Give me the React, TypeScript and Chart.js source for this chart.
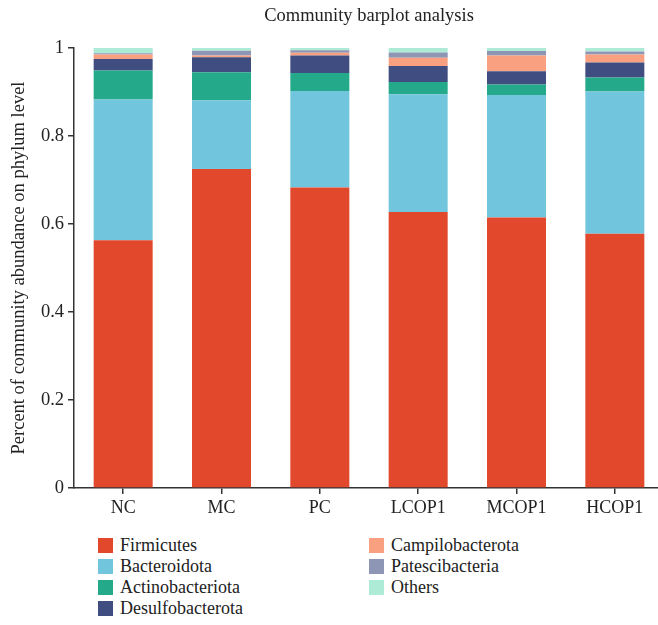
import React, { useEffect, useRef } from "react";
import { Chart, registerables } from "chart.js";

Chart.register(...registerables);

const categories = ["NC", "MC", "PC", "LCOP1", "MCOP1", "HCOP1"];
const seriesNames = [
  "Firmicutes",
  "Bacteroidota",
  "Actinobacteriota",
  "Desulfobacterota",
  "Campilobacterota",
  "Patescibacteria",
  "Others",
];
const firmicutes = [0.563, 0.725, 0.683, 0.627, 0.615, 0.578];
const bacteroidota = [0.32, 0.156, 0.219, 0.268, 0.278, 0.323];
const actinobacteriota = [0.066, 0.064, 0.041, 0.028, 0.024, 0.032];
const desulfobacterota = [0.026, 0.034, 0.04, 0.036, 0.03, 0.034];
const campilobacterota = [0.01, 0.004, 0.006, 0.019, 0.036, 0.018];
const patescibacteria = [0.003, 0.011, 0.006, 0.012, 0.01, 0.007];
const others = [0.012, 0.006, 0.005, 0.01, 0.007, 0.008];
const colors = ["#E2492C", "#71C6DD", "#24A98A", "#3F4D80", "#F9A080", "#8E96B5", "#ADEBD6"];
const yTicks = [0, 0.2, 0.4, 0.6, 0.8, 1];

const seriesValues = [
  firmicutes,
  bacteroidota,
  actinobacteriota,
  desulfobacterota,
  campilobacterota,
  patescibacteria,
  others,
];

const FONT = '"Liberation Serif", "DejaVu Serif", serif';

export default function App() {
  const ref = useRef<HTMLCanvasElement | null>(null);

  useEffect(() => {
    if (!ref.current) return;
    const titlePlugin = {
      id: "customTitle",
      afterDraw(chart: any) {
        const { ctx, chartArea } = chart;
        ctx.save();
        ctx.font = `18.5px ${FONT}`;
        ctx.fillStyle = "#222";
        ctx.textAlign = "center";
        ctx.textBaseline = "middle";
        ctx.fillText("Community barplot analysis", (chartArea.left + chartArea.right) / 2, 16);
        ctx.restore();
      },
    };
    const chart = new Chart(ref.current, {
      type: "bar",
      data: {
        labels: categories,
        datasets: seriesNames.map((name, i) => ({
          label: name,
          data: seriesValues[i],
          backgroundColor: colors[i],
          borderWidth: 0,
          barPercentage: 0.6,
          categoryPercentage: 1,
        })),
      },
      options: {
        responsive: false,
        animation: false,
        devicePixelRatio: 1,
        layout: { padding: { top: 48, right: 16, left: 0, bottom: 0 } },
        plugins: {
          legend: { display: false },
          title: { display: false },
          tooltip: { enabled: false },
        },
        scales: {
          x: {
            stacked: true,
            offset: true,
            grid: {
              display: true,
              drawOnChartArea: false,
              drawTicks: true,
              tickLength: 6,
              offset: false,
              color: "#333",
              lineWidth: 1.5,
            },
            border: { display: true, color: "#333", width: 1.5 },
            ticks: {
              color: "#222",
              font: { family: FONT, size: 18 },
              padding: 3,
              maxRotation: 0,
            },
            afterFit: (s: any) => {
              s.height = 42;
            },
          },
          y: {
            stacked: true,
            min: 0,
            max: 1,
            afterBuildTicks: (s: any) => {
              s.ticks = yTicks.map((v) => ({ value: v }));
            },
            grid: {
              display: true,
              drawOnChartArea: false,
              drawTicks: true,
              tickLength: 6,
              color: "#333",
              lineWidth: 1.5,
            },
            border: { display: true, color: "#333", width: 1.5 },
            ticks: {
              color: "#222",
              font: { family: FONT, size: 18.5 },
              padding: 4,
              callback: (v: any) => String(Number(Number(v).toFixed(1))),
            },
            title: {
              display: true,
              text: "Percent of community abundance on phylum level",
              color: "#222",
              font: { family: FONT, size: 18.5 },
              padding: { top: 8, bottom: 0 },
            },
            afterFit: (s: any) => {
              s.width = 74;
            },
          },
        },
      },
      plugins: [titlePlugin],
    });
    return () => chart.destroy();
  }, []);

  const col1 = seriesNames.slice(0, 4).map((n, i) => ({ n, c: colors[i] }));
  const col2 = seriesNames.slice(4).map((n, i) => ({ n, c: colors[i + 4] }));
  const renderCol = (items: { n: string; c: string }[], left: number) => (
    <div style={{ position: "absolute", left, top: 535 }}>
      {items.map((it) => (
        <div key={it.n} style={{ display: "flex", alignItems: "center", height: 21 }}>
          <div style={{ width: 15, height: 15, background: it.c, marginRight: 7 }} />
          <span style={{ fontFamily: FONT, fontSize: 18, color: "#222", lineHeight: "21px" }}>{it.n}</span>
        </div>
      ))}
    </div>
  );

  return (
    <div
      style={{
        position: "fixed",
        left: 0,
        top: 0,
        width: 658,
        height: 625,
        overflow: "hidden",
        background: "#fff",
      }}
    >
      <canvas ref={ref} width={680} height={530} style={{ position: "absolute", left: 0, top: 0 }} />
      {renderCol(col1, 98)}
      {renderCol(col2, 369)}
    </div>
  );
}
